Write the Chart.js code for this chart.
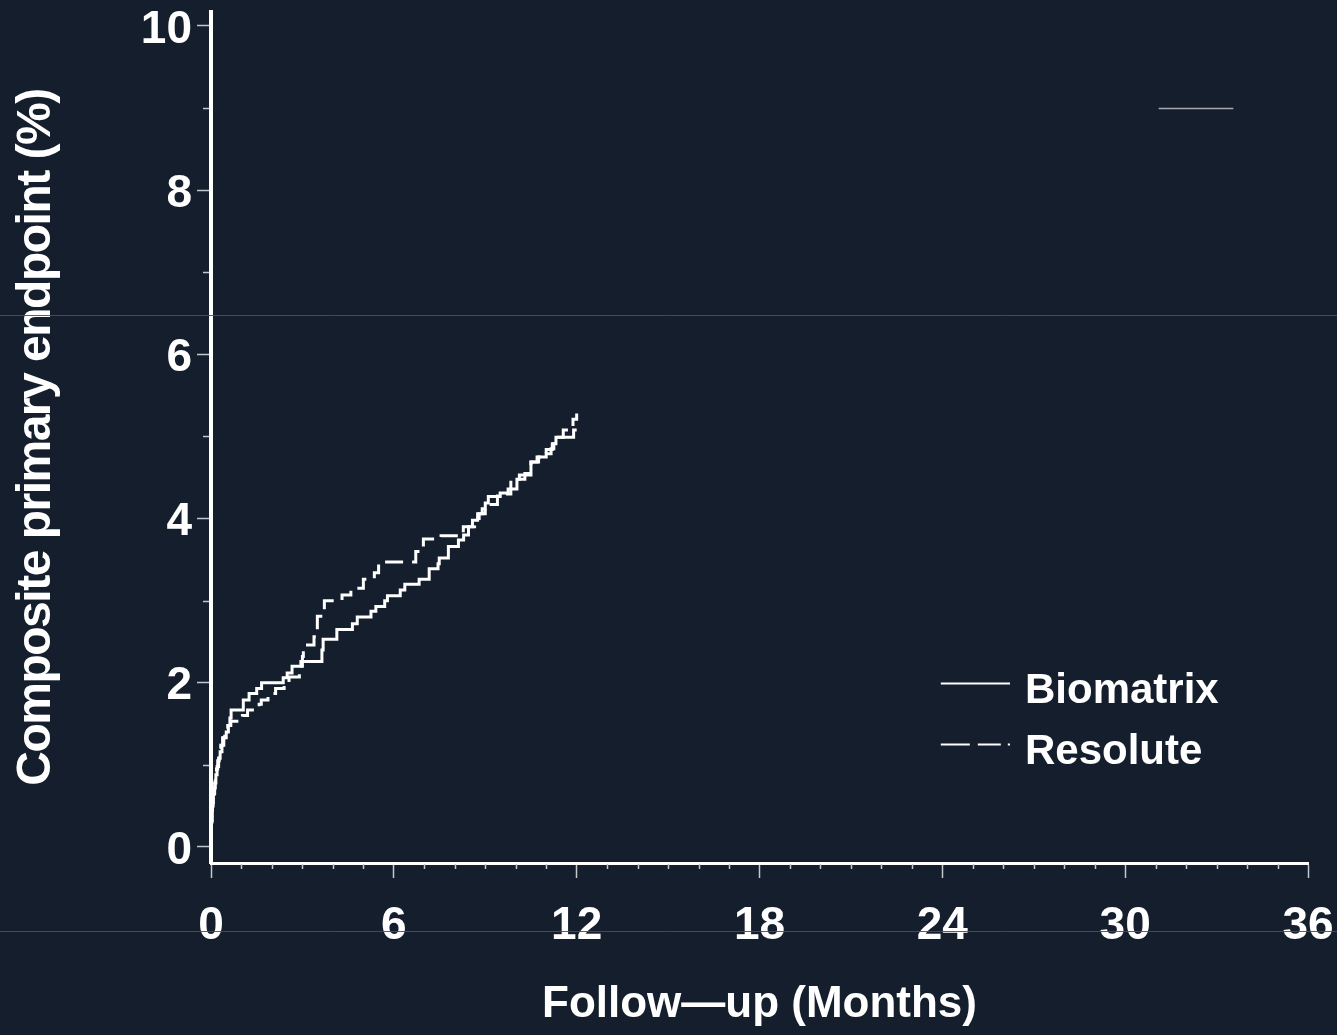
<!DOCTYPE html>
<html>
<head>
<meta charset="utf-8">
<title>Composite primary endpoint – Kaplan-Meier</title>
<script src="https://cdn.jsdelivr.net/npm/chart.js@4.4.1/dist/chart.umd.min.js"></script>
<style>
  html, body { margin: 0; padding: 0; background: #141e2c; }
  #wrap { position: relative; width: 1337px; height: 1035px; }
  canvas { display: block; }
</style>
</head>
<body>
<div id="wrap"><canvas id="km" width="1337" height="1035"></canvas></div>
<script>
// Kaplan-Meier event times (months) and cumulative incidence (%) per arm
const biomatrixMonths = [0, 0.01, 0.03, 0.05, 0.08, 0.12, 0.16, 0.2, 0.25, 0.3, 0.36, 0.42, 0.5, 0.57, 0.62, 0.66,
  1.06, 1.25, 1.5, 1.66, 2.37, 2.5, 2.66, 2.95, 3.64, 3.68, 4.13, 4.64, 4.8, 5.25, 5.41, 5.7, 5.79, 6.21, 6.36,
  6.83, 7.16, 7.45, 7.49, 7.79, 8.12, 8.29, 8.45, 8.58, 8.75, 8.9, 9.0, 9.1, 9.49, 9.75, 10.04, 10.12, 10.5,
  10.7, 11.0, 11.16, 11.25, 11.32, 11.9, 12.0];
const biomatrixPct = [0, 0.3, 0.45, 0.54, 0.65, 0.78, 0.88, 0.98, 1.08, 1.16, 1.24, 1.33, 1.4, 1.48, 1.57, 1.67,
  1.79, 1.87, 1.93, 2.0, 2.06, 2.12, 2.2, 2.26, 2.4, 2.53, 2.65, 2.72, 2.8, 2.87, 2.93, 3.0, 3.06, 3.13, 3.2,
  3.26, 3.39, 3.45, 3.52, 3.66, 3.74, 3.8, 3.9, 3.98, 4.06, 4.12, 4.19, 4.27, 4.31, 4.36, 4.48, 4.53, 4.69,
  4.75, 4.79, 4.85, 4.91, 4.99, 5.08, 5.08];

const resoluteMonths = [0, 0.01, 0.04, 0.07, 0.1, 0.14, 0.18, 0.22, 0.27, 0.32, 0.38, 0.45, 0.55, 0.65, 1.03,
  1.2, 1.58, 1.65, 1.87, 2.12, 2.4, 2.56, 2.9, 3.0, 3.03, 3.38, 3.49, 3.72, 4.3, 4.59, 5.0, 5.36, 5.5, 6.72,
  6.97, 7.55, 8.28, 8.65, 8.8, 9.0, 9.4, 9.84, 10.3, 10.5, 10.75, 11.0, 11.2, 11.4, 11.56, 11.88, 12.0];
const resolutePct = [0, 0.32, 0.5, 0.62, 0.72, 0.84, 0.95, 1.05, 1.15, 1.24, 1.33, 1.42, 1.48, 1.53, 1.6,
  1.67, 1.74, 1.79, 1.87, 1.93, 2.0, 2.07, 2.2, 2.32, 2.46, 2.56, 2.81, 3.0, 3.07, 3.15, 3.26, 3.34, 3.47, 3.6,
  3.75, 3.79, 3.9, 4.0, 4.06, 4.17, 4.3, 4.48, 4.55, 4.69, 4.75, 4.84, 4.91, 4.99, 5.08, 5.21, 5.28];

const seriesNames = ['Biomatrix', 'Resolute'];
const xTickMonths = [0, 6, 12, 18, 24, 30, 36];
const yTickPct = [0, 2, 4, 6, 8, 10];
const xTitle = 'Follow\u2014up (Months)';
const yTitle = 'Composite primary endpoint (%)';

const BG = '#141e2c';
const FONT = '"Liberation Sans", Arial, Helvetica, sans-serif';

const toXY = (xs, ys) => xs.map((x, i) => ({ x, y: ys[i] }));

// background fill, plus tighter tracking for the vertical axis title
const backgroundPlugin = {
  id: 'bg',
  beforeDraw(chart) {
    const { ctx, width, height } = chart;
    ctx.save();
    ctx.fillStyle = BG;
    ctx.fillRect(0, 0, width, height);
    ctx.restore();
    const ys = chart.scales.y;
    if (!ys._trackWrapped) {
      const orig = ys.drawTitle;
      ys.drawTitle = function () {
        const c = this.ctx;
        const prev = c.letterSpacing;
        c.letterSpacing = '-1.5px';
        orig.apply(this, arguments);
        c.letterSpacing = prev;
      };
      ys._trackWrapped = true;
    }
  }
};

// minor tick marks: every month on x, every odd percent on y
const minorTicksPlugin = {
  id: 'minorTicks',
  afterDraw(chart) {
    const { ctx, chartArea, scales: { x, y } } = chart;
    ctx.save();
    ctx.strokeStyle = '#c4c8cd';
    ctx.lineWidth = 1.5;
    ctx.beginPath();
    for (let m = 1; m < 36; m++) {
      if (m % 6 === 0) continue;
      const px = Math.round(x.getPixelForValue(m)) + 0.5;
      ctx.moveTo(px, chartArea.bottom + 1);
      ctx.lineTo(px, chartArea.bottom + 6);
    }
    for (let v = 1; v < 10; v += 2) {
      const py = Math.round(y.getPixelForValue(v)) + 0.5;
      ctx.moveTo(chartArea.left - 8, py);
      ctx.lineTo(chartArea.left - 2, py);
    }
    ctx.stroke();
    ctx.restore();
  }
};

// legend drawn inside the plot, lower right
const legendPlugin = {
  id: 'kmLegend',
  afterDraw(chart) {
    const { ctx, scales: { x, y } } = chart;
    const x0 = x.getPixelForValue(23.95);
    const x1 = x.getPixelForValue(26.22);
    const rows = [y.getPixelForValue(2.0), y.getPixelForValue(1.25)];
    ctx.save();
    chart.data.datasets.forEach((ds, i) => {
      const ly = Math.round(rows[i]) + 0.5;
      ctx.strokeStyle = '#ffffff';
      ctx.lineWidth = 2;
      ctx.setLineDash(i === 0 ? [] : [29, 8, 23, 7]);
      ctx.beginPath();
      ctx.moveTo(x0, ly);
      ctx.lineTo(x1, ly);
      ctx.stroke();
      ctx.setLineDash([]);
      ctx.fillStyle = '#ffffff';
      ctx.font = 'bold 42px ' + FONT;
      ctx.textAlign = 'left';
      ctx.textBaseline = 'middle';
      ctx.fillText(ds.label, x1 + 15, ly + 8);
    });
    ctx.restore();
  }
};

// faint scan rules across the figure and a short grey rule near the top right
const rulesPlugin = {
  id: 'rules',
  afterDraw(chart) {
    const { ctx, width, scales: { x, y } } = chart;
    ctx.save();
    ctx.strokeStyle = 'rgba(14, 96, 145, 0.9)';
    ctx.lineWidth = 1;
    ctx.beginPath();
    ctx.moveTo(0, 315.5); ctx.lineTo(width, 315.5);
    ctx.moveTo(0, 931.5); ctx.lineTo(width, 931.5);
    ctx.stroke();
    ctx.strokeStyle = '#a7abb0';
    ctx.lineWidth = 1.5;
    const gy = Math.round(y.getPixelForValue(9)) + 0.5;
    ctx.beginPath();
    ctx.moveTo(x.getPixelForValue(31.1), gy);
    ctx.lineTo(x.getPixelForValue(33.55), gy);
    ctx.stroke();
    ctx.restore();
  }
};

const tickFont = { family: FONT, size: 46, weight: 'bold' };

new Chart(document.getElementById('km'), {
  type: 'line',
  data: {
    datasets: [
      {
        label: seriesNames[0],
        data: toXY(biomatrixMonths, biomatrixPct),
        borderColor: '#ffffff',
        borderWidth: 3,
        stepped: 'before',
        pointRadius: 0,
        fill: false
      },
      {
        label: seriesNames[1],
        data: toXY(resoluteMonths, resolutePct),
        borderColor: '#ffffff',
        borderWidth: 3,
        borderDash: [18, 9],
        stepped: 'before',
        pointRadius: 0,
        fill: false
      }
    ]
  },
  options: {
    responsive: false,
    animation: false,
    devicePixelRatio: 1,
    layout: { padding: { top: 12, right: 29, bottom: 0, left: 0 } },
    plugins: {
      legend: { display: false },
      tooltip: { enabled: false }
    },
    scales: {
      x: {
        type: 'linear',
        min: 0,
        max: 36,
        afterBuildTicks: (s) => { s.ticks = xTickMonths.map(v => ({ value: v })); },
        afterFit: (s) => { s.height = 172; s.paddingLeft = 0; s.paddingRight = 0; },
        grid: {
          drawOnChartArea: false,
          drawTicks: true,
          tickLength: 15,
          tickColor: '#c4c8cd',
          tickWidth: 1.5
        },
        border: { display: true, color: '#ffffff', width: 3 },
        ticks: {
          color: '#ffffff',
          font: tickFont,
          padding: 21,
          maxRotation: 0,
          autoSkip: false,
          callback: (v) => String(v)
        },
        title: {
          display: true,
          text: xTitle,
          color: '#ffffff',
          font: { family: FONT, size: 44, weight: 'bold', lineHeight: 1.2 },
          padding: { top: 0, bottom: 4 }
        }
      },
      y: {
        type: 'linear',
        min: -0.195,
        max: 10.17,
        afterBuildTicks: (s) => { s.ticks = yTickPct.map(v => ({ value: v })); },
        afterFit: (s) => { s.width = 211; s.paddingTop = 0; s.paddingBottom = 0; },
        grid: {
          drawOnChartArea: false,
          drawTicks: true,
          tickLength: 14,
          tickColor: '#c4c8cd',
          tickWidth: 1.5
        },
        border: { display: true, color: '#ffffff', width: 4 },
        ticks: {
          color: '#ffffff',
          font: tickFont,
          padding: 5,
          labelOffset: 4,
          autoSkip: false,
          callback: (v) => String(v)
        },
        title: {
          display: true,
          text: yTitle,
          color: '#ffffff',
          font: { family: FONT, size: 48, weight: 'bold', lineHeight: 1.2 },
          padding: { top: 8, bottom: 0 }
        }
      }
    }
  },
  plugins: [backgroundPlugin, minorTicksPlugin, legendPlugin, rulesPlugin]
});
</script>
</body>
</html>
